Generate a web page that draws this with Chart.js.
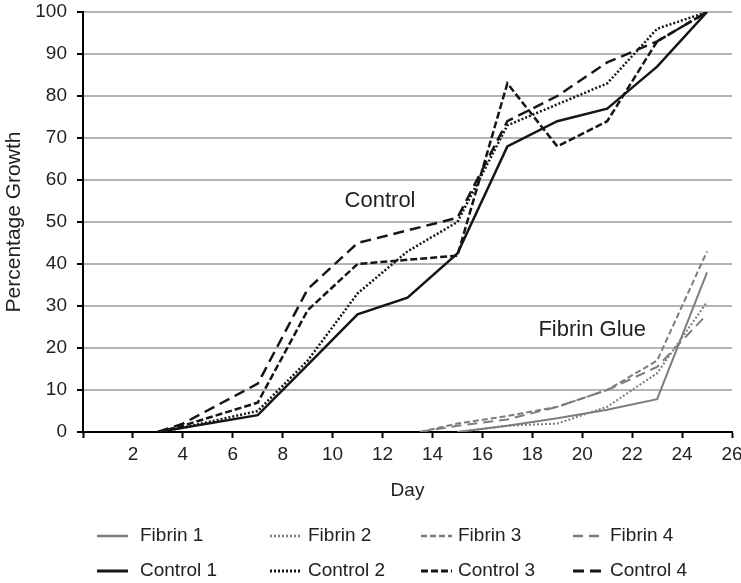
<!DOCTYPE html>
<html>
<head>
<meta charset="utf-8">
<script src="https://cdn.jsdelivr.net/npm/chart.js@4/dist/chart.umd.min.js"></script>
<style>
  html, body { margin: 0; padding: 0; background: #fff; }
  #wrap { width: 741px; height: 583px; position: relative; }
</style>
</head>
<body>
<div id="wrap"><canvas id="growthChart"></canvas></div>
<script>
// days on which each group was measured
const controlDays = [3, 4, 7, 9, 11, 13, 15, 17, 19, 21, 23, 25];
const fibrinDays = [13.5, 15, 17, 19, 21, 23, 25];

// percentage growth
const control1 = [0, 1, 4, 16, 28, 32, 42.5, 68, 74, 77, 87, 100];
const control2 = [0, 1, 5, 17, 33, 43, 50, 73, 78, 83, 96, 100];
const control3 = [0, 1.5, 7, 29, 40, 41, 42, 83, 68, 74, 93, 100];
const control4 = [0, 2, 11.5, 34, 45, 48, 51, 74, 80, 88, 93, 100];

const fibrin1 = [null, 0, 1.5, 3.3, 5.3, 7.8, 38];
const fibrin2 = [null, 0, 1.5, 2, 6, 14, 31];
const fibrin3 = [0, 2, 3.8, 6, 10, 17, 43];
const fibrin4 = [0, 1.5, 3, 6, 10, 15.5, 28];

const xTicks = [2, 4, 6, 8, 10, 12, 14, 16, 18, 20, 22, 24, 26];
const yTicks = [0, 10, 20, 30, 40, 50, 60, 70, 80, 90, 100];

const FONT = '"Liberation Sans", Arial, Helvetica, sans-serif';
const BLACK = '#151515';
const GREY = '#7d7d7d';
const TEXT = '#222';

function points(days, vals) {
    return days.map((d, i) => ({ x: d, y: vals[i] }));
}

function series(label, days, vals, color, dash, width) {
    return {
        label: label,
        data: points(days, vals),
        borderColor: color,
        backgroundColor: color,
        borderDash: dash,
        borderWidth: width,
        pointRadius: 0,
        fill: false,
        tension: 0,
        spanGaps: false
    };
}

// legend drawn at fixed columns, two rows of four
const legendPlugin = {
    id: 'gridLegend',
    afterDraw(chart) {
        const ctx = chart.ctx;
        const sampleX = [97, 270, 421, 573];
        const textX = [140, 308, 458, 610];
        const rows = [536, 571];
        ctx.save();
        ctx.font = '19px ' + FONT;
        ctx.textBaseline = 'middle';
        ctx.fillStyle = TEXT;
        chart.data.datasets.forEach((ds, i) => {
            const c = i % 4;
            const y = rows[Math.floor(i / 4)];
            ctx.save();
            ctx.strokeStyle = ds.borderColor;
            ctx.lineWidth = ds.borderWidth + 0.5;
            ctx.setLineDash(ds.borderDash || []);
            ctx.beginPath();
            ctx.moveTo(sampleX[c], y);
            ctx.lineTo(sampleX[c] + 31, y);
            ctx.stroke();
            ctx.restore();
            ctx.fillText(ds.label, textX[c], y);
        });
        ctx.restore();
    }
};

// group labels placed inside the plot
const groupLabels = [
    { text: 'Control', x: 11.9, y: 55 },
    { text: 'Fibrin Glue', x: 20.4, y: 24.3 }
];
const labelPlugin = {
    id: 'groupLabels',
    afterDatasetsDraw(chart) {
        const ctx = chart.ctx;
        const xs = chart.scales.x, ys = chart.scales.y;
        ctx.save();
        ctx.font = '22px ' + FONT;
        ctx.fillStyle = TEXT;
        ctx.textAlign = 'center';
        ctx.textBaseline = 'middle';
        groupLabels.forEach(l => {
            ctx.fillText(l.text, xs.getPixelForValue(l.x), ys.getPixelForValue(l.y));
        });
        ctx.restore();
    }
};

new Chart(document.getElementById('growthChart'), {
    type: 'line',
    data: {
        datasets: [
            series('Fibrin 1', fibrinDays, fibrin1, GREY, [], 2),
            series('Fibrin 2', fibrinDays, fibrin2, GREY, [2, 2], 2),
            series('Fibrin 3', fibrinDays, fibrin3, GREY, [6, 3], 2),
            series('Fibrin 4', fibrinDays, fibrin4, GREY, [10, 6], 2),
            series('Control 1', controlDays, control1, BLACK, [], 2.5),
            series('Control 2', controlDays, control2, BLACK, [2, 2], 2.5),
            series('Control 3', controlDays, control3, BLACK, [7, 3], 2.5),
            series('Control 4', controlDays, control4, BLACK, [11, 6], 2.5)
        ]
    },
    plugins: [labelPlugin, legendPlugin],
    options: {
        responsive: true,
        maintainAspectRatio: false,
        animation: false,
        layout: { padding: { top: 12, right: 9, bottom: 81, left: 0 } },
        plugins: {
            legend: { display: false },
            tooltip: { enabled: false }
        },
        scales: {
            x: {
                type: 'linear',
                min: 0,
                max: 26,
                afterBuildTicks(scale) {
                    scale.ticks = [{ value: 0 }].concat(xTicks.map(v => ({ value: v })));
                },
                afterFit(scale) {
                    scale.height = 70;
                    scale.paddingLeft = 0;
                    scale.paddingRight = 0;
                },
                ticks: {
                    callback: v => (v === 0 ? '' : v),
                    font: { family: FONT, size: 19 },
                    color: TEXT,
                    padding: 5,
                    maxRotation: 0,
                    autoSkip: false
                },
                grid: { drawOnChartArea: false, drawTicks: true, tickLength: 6, tickColor: '#000', tickWidth: 2 },
                border: { color: '#000', width: 2 },
                title: {
                    display: true,
                    text: 'Day',
                    font: { family: FONT, size: 19 },
                    color: TEXT,
                    padding: { top: 0, bottom: 0 }
                }
            },
            y: {
                min: 0,
                max: 100,
                afterBuildTicks(scale) {
                    scale.ticks = yTicks.map(v => ({ value: v }));
                },
                afterFit(scale) {
                    scale.width = 83;
                    scale.paddingTop = 0;
                    scale.paddingBottom = 0;
                },
                ticks: {
                    font: { family: FONT, size: 19 },
                    color: TEXT,
                    padding: 10
                },
                grid: { color: '#b4b4b4', lineWidth: 2, tickLength: 6, tickColor: '#000', tickWidth: 2 },
                border: { color: '#000', width: 2 },
                title: {
                    display: true,
                    text: 'Percentage Growth',
                    font: { family: FONT, size: 21 },
                    color: TEXT,
                    padding: { top: 2, bottom: 0 }
                }
            }
        }
    }
});
</script>
</body>
</html>
